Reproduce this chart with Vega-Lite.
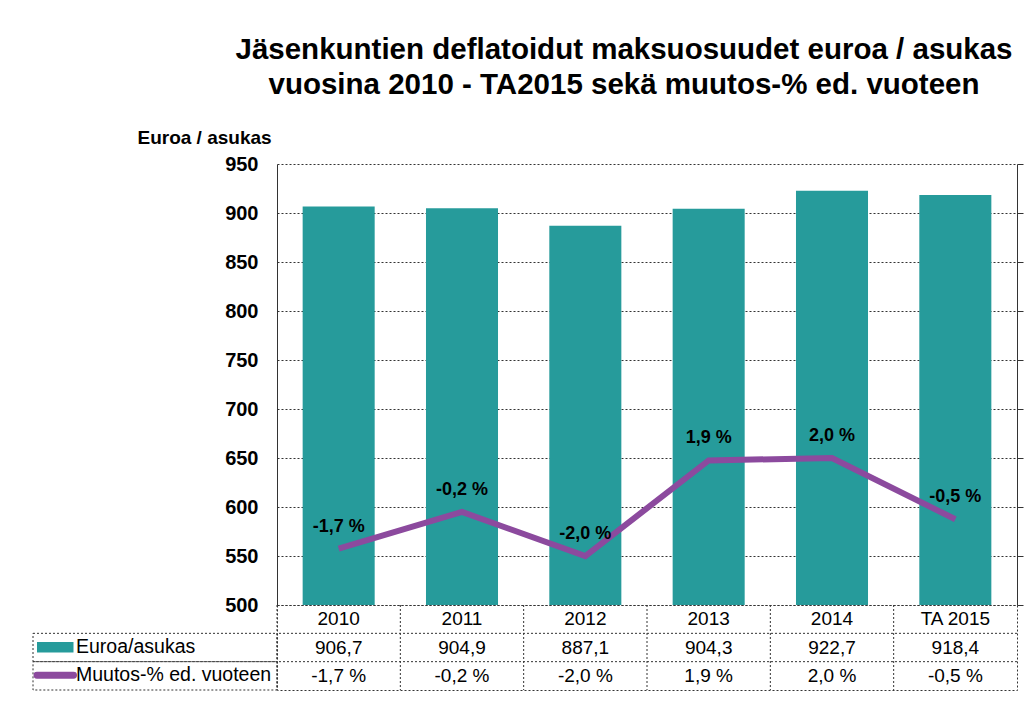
{
  "$schema": "https://vega.github.io/schema/vega-lite/v6.json",
  "padding": {"left": 32, "top": 34, "right": 0, "bottom": 0},
  "title": {
    "text": ["Jäsenkuntien deflatoidut maksuosuudet euroa / asukas", "vuosina 2010 - TA2015 sekä muutos-% ed. vuoteen"],
    "fontSize": 29.5, "fontWeight": "bold", "font": "Liberation Sans", "color": "black",
    "lineHeight": 35, "anchor": "middle", "dx": 96, "offset": 28
  },
  "config": {
    "view": {"stroke": null},
    "font": "Liberation Sans"
  },
  "datasets": {
    "main": [
      {"year": "2010", "euro": 906.7, "pct": -1.7, "lab": "-1,7 %"},
      {"year": "2011", "euro": 904.9, "pct": -0.2, "lab": "-0,2 %"},
      {"year": "2012", "euro": 887.1, "pct": -2.0, "lab": "-2,0 %"},
      {"year": "2013", "euro": 904.3, "pct": 1.9, "lab": "1,9 %"},
      {"year": "2014", "euro": 922.7, "pct": 2.0, "lab": "2,0 %"},
      {"year": "TA 2015", "euro": 918.4, "pct": -0.5, "lab": "-0,5 %"}
    ],
    "table": [
      {"year": "2010", "row": "h", "txt": "2010"},
      {"year": "2010", "row": "e", "txt": "906,7"},
      {"year": "2010", "row": "m", "txt": "-1,7 %"},
      {"year": "2011", "row": "h", "txt": "2011"},
      {"year": "2011", "row": "e", "txt": "904,9"},
      {"year": "2011", "row": "m", "txt": "-0,2 %"},
      {"year": "2012", "row": "h", "txt": "2012"},
      {"year": "2012", "row": "e", "txt": "887,1"},
      {"year": "2012", "row": "m", "txt": "-2,0 %"},
      {"year": "2013", "row": "h", "txt": "2013"},
      {"year": "2013", "row": "e", "txt": "904,3"},
      {"year": "2013", "row": "m", "txt": "1,9 %"},
      {"year": "2014", "row": "h", "txt": "2014"},
      {"year": "2014", "row": "e", "txt": "922,7"},
      {"year": "2014", "row": "m", "txt": "2,0 %"},
      {"year": "TA 2015", "row": "h", "txt": "TA 2015"},
      {"year": "TA 2015", "row": "e", "txt": "918,4"},
      {"year": "TA 2015", "row": "m", "txt": "-0,5 %"}
    ]
  },
  "columns": 2,
  "spacing": 0,
  "bounds": "flush",
  "concat": [
    {
      "width": 244, "height": 441,
      "data": {"values": [{"t": ""}]},
      "mark": {"type": "text"},
      "encoding": {"text": {"field": "t"}}
    },
    {
      "width": 740, "height": 441,
      "data": {"name": "main"},
      "encoding": {
        "x": {"field": "year", "type": "nominal", "sort": null,
              "scale": {"paddingInner": 0.416, "paddingOuter": 0.208}, "axis": null}
      },
      "layer": [
        {
          "mark": {"type": "bar"},
          "encoding": {
            "y": {"field": "euro", "type": "quantitative", "scale": {"domain": [500, 950]},
                  "axis": {"values": [500, 550, 600, 650, 700, 750, 800, 850, 900, 950],
                           "grid": true, "gridDash": [2, 2], "gridColor": "#333", "gridOpacity": 1,
                           "domainColor": "#333", "ticks": false,
                           "labelFontSize": 20, "labelFontWeight": "bold", "labelColor": "black", "labelPadding": 19,
                           "title": "Euroa / asukas", "titleAngle": 0, "titleAlign": "left", "titleBaseline": "alphabetic",
                           "titleX": -140, "titleY": -21, "titleFontSize": 19, "titleFontWeight": "bold", "titleColor": "black"}},
            "y2": {"datum": 500},
            "color": {"datum": "Euroa/asukas", "type": "nominal",
                      "scale": {"domain": ["Euroa/asukas", "Muutos-% ed. vuoteen"], "range": ["#269B9B", "#8C4A9E"]},
                      "legend": {"orient": "none", "legendX": 12.5, "legendY": 473.5, "title": null,
                                 "symbolSize": 100, "labelFontSize": 19.5, "labelColor": "black", "labelOffset": 11,
                                 "labelLimit": 400, "rowPadding": 7, "padding": 0,
                                 "encode": {"symbols": {"update": {
                                   "shape": {"signal": "datum.value === 'Euroa/asukas' ? 'M-3.5,-0.9H3.5V0.9H-3.5Z' : 'M-3.66,-0.54H3.66A0.54,0.54 0 0 1 3.66,0.54H-3.66A0.54,0.54 0 0 1 -3.66,-0.54Z'"},
                                   "fill": {"signal": "datum.value === 'Euroa/asukas' ? '#269B9B' : '#8C4A9E'"},
                                   "stroke": {"value": "transparent"},
                                   "opacity": {"value": 1}
                                 }}}}}
          }
        },
        {
          "layer": [
            {
              "mark": {"type": "line", "strokeWidth": 6},
              "encoding": {
                "y": {"field": "pct", "type": "quantitative", "scale": {"domain": [-4, 14]},
                      "axis": {"orient": "right", "values": [-4, -2, 0, 2, 4, 6, 8, 10, 12, 14],
                               "labels": false, "ticks": true, "tickSize": 6, "tickColor": "#333",
                               "domainColor": "#333", "grid": false, "title": null}},
                "color": {"datum": "Muutos-% ed. vuoteen", "type": "nominal"}
              }
            },
            {
              "mark": {"type": "text", "fontSize": 18, "fontWeight": "bold", "dy": -22, "color": "black"},
              "encoding": {
                "y": {"field": "pct", "type": "quantitative"},
                "text": {"field": "lab"}
              }
            }
          ]
        }
      ],
      "resolve": {"scale": {"y": "independent"}}
    },
    {
      "width": 244, "height": 85,
      "data": {"values": [{"row": "e"}, {"row": "m"}]},
      "mark": {"type": "rect", "fill": "transparent", "stroke": "#333", "strokeDash": [2, 2], "strokeWidth": 1},
      "encoding": {
        "y": {"field": "row", "type": "nominal",
              "scale": {"domain": ["h", "e", "m"], "paddingInner": 0, "paddingOuter": 0}, "axis": null}
      }
    },
    {
      "width": 740, "height": 85,
      "data": {"name": "table"},
      "view": {"stroke": "#333", "strokeDash": [2, 2]},
      "layer": [
        {
          "transform": [{"filter": "datum.row === 'h'"}],
          "mark": {"type": "rule", "stroke": "#333", "strokeDash": [2, 2]},
          "encoding": {
            "x": {"field": "year", "type": "nominal", "sort": null, "bandPosition": 0,
                  "scale": {"paddingInner": 0, "paddingOuter": 0}, "axis": null}
          }
        },
        {
          "transform": [{"filter": "datum.row !== 'h' && datum.year === '2010'"}],
          "mark": {"type": "rule", "stroke": "#333", "strokeDash": [2, 2]},
          "encoding": {
            "y": {"field": "row", "type": "nominal", "bandPosition": 0,
                  "scale": {"domain": ["h", "e", "m"], "paddingInner": 0, "paddingOuter": 0}, "axis": null}
          }
        },
        {
          "mark": {"type": "text", "fontSize": 19, "color": "black"},
          "encoding": {
            "x": {"field": "year", "type": "nominal", "sort": null, "axis": null},
            "y": {"field": "row", "type": "nominal", "axis": null},
            "text": {"field": "txt"}
          }
        }
      ]
    }
  ]
}
